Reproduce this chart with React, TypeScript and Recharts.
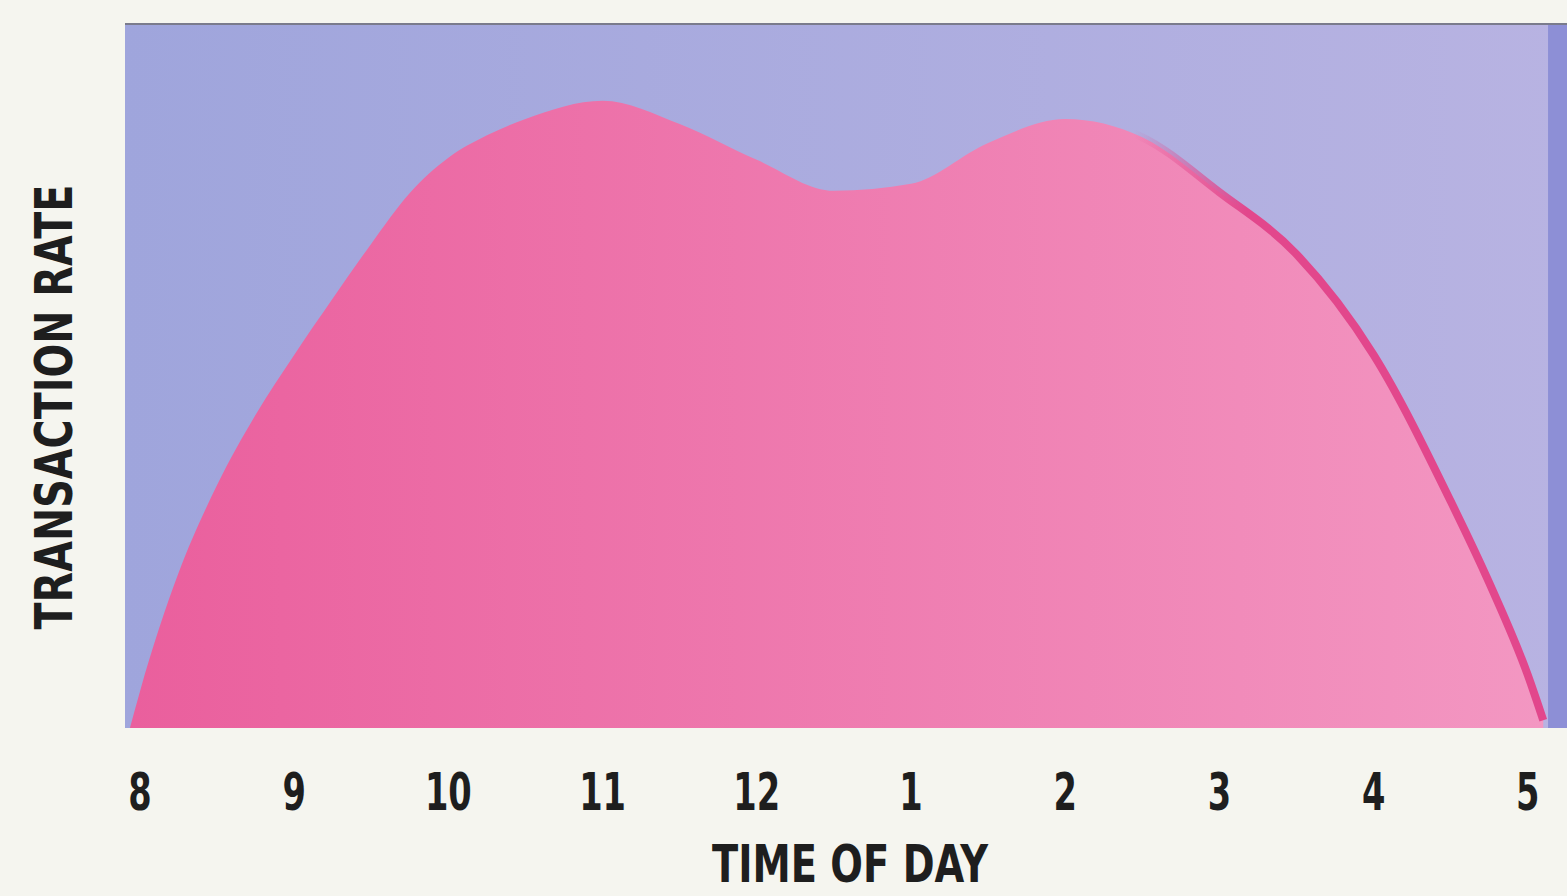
import React from "react";
import { AreaChart, Area, XAxis, YAxis, CartesianGrid, ReferenceArea, ReferenceLine } from "recharts";

// hour of day (24h) and relative transaction rate
const hours = [7.935, 8, 8.25, 8.5, 8.75, 9, 9.25, 9.5, 9.75, 10, 10.25, 10.5, 11, 11.5, 12, 12.5, 13, 13.5, 14, 14.5, 15, 15.5, 16, 16.5, 16.75, 17, 17.1];
const rate = [0, 5.2, 22, 34.5, 44.5, 53, 61, 68.8, 76, 81, 84.2, 86.5, 89.1, 85.8, 80.7, 76.3, 77.3, 83.1, 86.5, 83.9, 76.1, 67.3, 53, 32.2, 20.6, 7.5, 1.1];
const tickHours = [8, 9, 10, 11, 12, 13, 14, 15, 16, 17];

const data = hours.map((h, i) => ({ hour: h, rate: rate[i] }));

const FONT = "'DejaVu Sans Condensed', 'DejaVu Sans', sans-serif";
const INK = "#1e1e1e";

const HourTick = (props: any) => {
    const { x, y, payload } = props;
    const h = payload.value as number;
    return (
        <g transform={`translate(${x},${y})`}>
            <text transform="scale(0.72,1)" x={0} y={0} dy={80} textAnchor="middle" fill={INK} fontSize={52} fontWeight={700} fontFamily={FONT} fontStretch="condensed">
                {String(((h - 1) % 12) + 1)}
            </text>
        </g>
    );
};

const App: React.FC = () => {
    return (
        <div style={{ position: "absolute", left: 0, top: 0, width: 1567, height: 896, background: "#f5f5ef" }}>
            <AreaChart width={1567} height={896} data={data} margin={{ top: 24, right: 0, bottom: 0, left: 0 }}>
                <defs>
                    <linearGradient id="bgFill" x1="0" y1="0" x2="1" y2="0">
                        <stop offset="0%" stopColor="#9fa5dc" />
                        <stop offset="100%" stopColor="#b8b3e2" />
                    </linearGradient>
                    <linearGradient id="pinkFill" x1="0" y1="0" x2="1" y2="0">
                        <stop offset="0%" stopColor="#ea5f9d" />
                        <stop offset="100%" stopColor="#f397c2" />
                    </linearGradient>
                    <linearGradient id="edgeStroke" x1="0" y1="0" x2="1" y2="0">
                        <stop offset="0%" stopColor="#e2478c" stopOpacity={0} />
                        <stop offset="71%" stopColor="#e2478c" stopOpacity={0} />
                        <stop offset="79%" stopColor="#e2478c" stopOpacity={1} />
                        <stop offset="100%" stopColor="#e2478c" stopOpacity={1} />
                    </linearGradient>
                </defs>
                <CartesianGrid fill="url(#bgFill)" stroke="none" horizontal={false} vertical={false} />
                <XAxis
                    dataKey="hour"
                    type="number"
                    domain={[7.903, 17.254]}
                    ticks={tickHours}
                    axisLine={false}
                    tickLine={false}
                    tickSize={0}
                    height={168}
                    tick={<HourTick />}
                    label={{
                        content: () => (
                            <text x={850} y={882} textAnchor="middle" textLength={276} lengthAdjust="spacingAndGlyphs" fill={INK} fontSize={51} fontWeight={700} fontFamily={FONT} fontStretch="condensed">
                                TIME OF DAY
                            </text>
                        ),
                    }}
                />
                <YAxis
                    domain={[0, 100]}
                    width={125}
                    axisLine={false}
                    tickLine={false}
                    tick={false}
                    label={{
                        content: () => (
                            <text x={72} y={407} transform="rotate(-90 72 407)" textAnchor="middle" textLength={445} lengthAdjust="spacingAndGlyphs" fill={INK} fontSize={51} fontWeight={700} fontFamily={FONT} fontStretch="condensed">
                                TRANSACTION RATE
                            </text>
                        ),
                    }}
                />
                <ReferenceArea x1={17.131} x2={17.254} y1={0} y2={100} fill="#8d8fd6" fillOpacity={1} stroke="none" />
                <ReferenceLine y={100} stroke="#7a7b8c" strokeWidth={2} />
                <Area
                    type="monotone"
                    dataKey="rate"
                    stroke="url(#edgeStroke)"
                    strokeWidth={8}
                    fill="url(#pinkFill)"
                    fillOpacity={1}
                    dot={false}
                    activeDot={false}
                    isAnimationActive={false}
                />
            </AreaChart>
        </div>
    );
};

export default App;
